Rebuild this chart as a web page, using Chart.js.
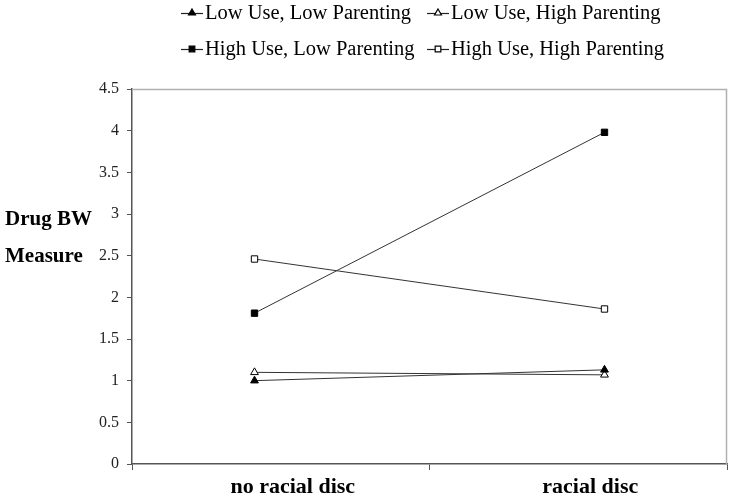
<!DOCTYPE html>
<html>
<head>
<meta charset="utf-8">
<script src="https://cdn.jsdelivr.net/npm/chart.js@4"></script>
<style>
html,body{margin:0;padding:0;background:#fff;}
#c{display:block;}
</style>
</head>
<body>
<canvas id="c" width="733" height="499"></canvas>
<script>
const categories = ["no racial disc", "racial disc"];
const seriesNames = ["Low Use, Low Parenting", "Low Use, High Parenting", "High Use, Low Parenting", "High Use, High Parenting"];
const lowUseLowParenting = [1.00, 1.13];
const lowUseHighParenting = [1.10, 1.07];
const highUseLowParenting = [1.81, 3.98];
const highUseHighParenting = [2.46, 1.86];
const yTicks = [0, 0.5, 1, 1.5, 2, 2.5, 3, 3.5, 4, 4.5];
const yTitleLines = ["Drug BW", "Measure"];

const values = [lowUseLowParenting, lowUseHighParenting, highUseLowParenting, highUseHighParenting];
const styles = [
  {pointStyle: 'triangle', fill: '#000'},
  {pointStyle: 'triangle', fill: '#fff'},
  {pointStyle: 'rect', fill: '#000'},
  {pointStyle: 'rect', fill: '#fff'}
];
const datasets = values.map((v, i) => ({
  label: seriesNames[i],
  data: v.map((y, j) => ({x: j, y: y})),
  xAxisID: 'x',
  borderColor: '#333',
  borderWidth: 1,
  pointStyle: styles[i].pointStyle,
  pointBackgroundColor: styles[i].fill,
  pointBorderColor: '#000',
  pointBorderWidth: 1,
  pointRadius: 4.5,
  fill: false,
  tension: 0
}));

const extras = {
  id: 'extras',
  afterDraw(chart) {
    const ctx = chart.ctx;
    const a = chart.chartArea;
    ctx.save();
    ctx.strokeStyle = '#b0b0b0';
    ctx.lineWidth = 1.5;
    ctx.beginPath();
    ctx.moveTo(a.left, a.top + 0.5);
    ctx.lineTo(a.right - 0.5, a.top + 0.5);
    ctx.lineTo(a.right - 0.5, a.bottom);
    ctx.stroke();
    ctx.fillStyle = '#000';
    ctx.font = 'bold 21px "Liberation Serif", serif';
    ctx.textAlign = 'left';
    ctx.textBaseline = 'alphabetic';
    ctx.fillText(yTitleLines[0], 5, 225);
    ctx.fillText(yTitleLines[1], 5, 262);
    const pos = [[181, 13], [427, 13], [181, 49], [427, 49]];
    ctx.font = '20.5px "Liberation Serif", serif';
    ctx.textBaseline = 'middle';
    chart.data.datasets.forEach((ds, i) => {
      const [x, y] = pos[i];
      ctx.strokeStyle = '#222';
      ctx.lineWidth = 1.2;
      ctx.beginPath();
      ctx.moveTo(x, y + 0.5);
      ctx.lineTo(x + 22, y + 0.5);
      ctx.stroke();
      ctx.fillStyle = ds.pointBackgroundColor;
      ctx.strokeStyle = '#000';
      Chart.helpers.drawPoint(ctx, {pointStyle: ds.pointStyle, radius: 4, rotation: 0, borderWidth: 1}, x + 11, y);
      ctx.fillStyle = '#000';
      ctx.fillText(ds.label, x + 24, y + 1);
    });
    ctx.restore();
  }
};

new Chart(document.getElementById('c'), {
  type: 'line',
  data: {labels: categories, datasets: datasets},
  options: {
    responsive: false,
    animation: false,
    events: [],
    layout: {padding: {left: 0, right: 6, top: 89, bottom: 0}},
    plugins: {legend: {display: false}, tooltip: {enabled: false}},
    scales: {
      x: {
        type: 'linear',
        display: false,
        min: -0.35,
        max: 1.35
      },
      x2: {
        type: 'category',
        labels: categories,
        position: 'bottom',
        offset: true,
        afterFit(s) { s.height = 35; },
        grid: {offset: true, drawOnChartArea: false, tickLength: 6, color: '#555'},
        border: {color: '#555', width: 1.5},
        ticks: {color: '#000', font: {family: '"Liberation Serif", serif', size: 22, weight: 'bold'}, padding: 4, labelOffset: 12}
      },
      y: {
        min: 0,
        max: 4.5,
        afterBuildTicks(s) { s.ticks = yTicks.map(v => ({value: v})); },
        afterFit(s) { s.width = 132; },
        grid: {drawOnChartArea: false, tickLength: 5, color: '#555'},
        border: {color: '#555', width: 1.5},
        ticks: {color: '#222', font: {family: '"Liberation Serif", serif', size: 16}, padding: 8,
          callback: v => String(v)}
      }
    }
  },
  plugins: [extras]
});
</script>
</body>
</html>
